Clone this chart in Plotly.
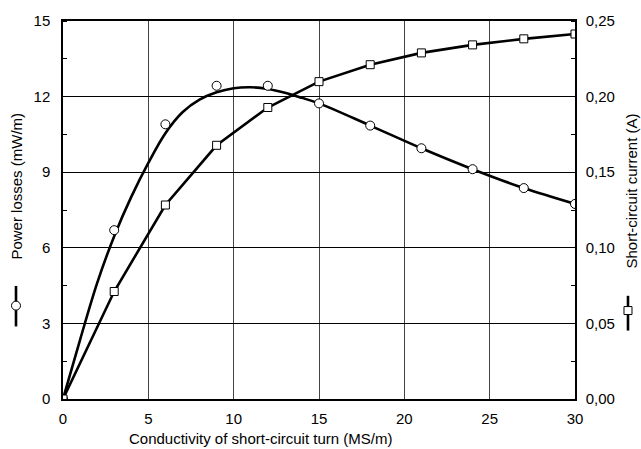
import plotly.graph_objects as go

# conductivity (MS/m)
conductivity = [0, 3, 6, 9, 12, 15, 18, 21, 24, 27, 30]
# power losses (mW/m) - measured points (circles)
power_losses = [0, 6.7, 10.9, 12.43, 12.43, 11.73, 10.85, 9.95, 9.12, 8.37, 7.74]
# short-circuit current (A) - squares
sc_current = [0, 0.0711, 0.1283, 0.1678, 0.1928, 0.2099, 0.2211, 0.2289, 0.2342, 0.2382, 0.2414]
# smooth fitted curve for power losses
fit_x = [0, 1, 2, 3, 4, 5, 6, 7, 8, 9, 10, 11, 12, 13, 14, 15, 18, 21, 24, 27, 30]
fit_y = [0, 2.35, 4.6, 6.46, 8.02, 9.37, 10.55, 11.38, 11.88, 12.17, 12.33, 12.37, 12.3, 12.15, 11.95,
         11.73, 10.85, 9.95, 9.12, 8.37, 7.74]

x_ticks = [0, 5, 10, 15, 20, 25, 30]
y_ticks = [0, 3, 6, 9, 12, 15]
y2_ticks = [0, 0.05, 0.10, 0.15, 0.20, 0.25]

FONT = "Liberation Sans, Arial, sans-serif"
FS = 15

fig = go.Figure()
fig.add_trace(go.Scatter(x=fit_x, y=fit_y, mode="lines", line=dict(color="black", width=2.6, shape="spline", smoothing=1.0),
                         showlegend=False, hoverinfo="skip"))
fig.add_trace(go.Scatter(x=conductivity, y=power_losses, mode="markers",
                         marker=dict(symbol="circle", size=9, color="white", line=dict(color="black", width=1)),
                         showlegend=False))
fig.add_trace(go.Scatter(x=conductivity, y=sc_current, mode="lines+markers", yaxis="y2",
                         line=dict(color="black", width=2.6),
                         marker=dict(symbol="square", size=8, color="white", line=dict(color="black", width=1)),
                         showlegend=False))

fig.update_layout(
    width=641, height=449,
    margin=dict(l=63, r=66, t=18, b=50),
    paper_bgcolor="white", plot_bgcolor="white",
    separators=",.",
    font=dict(family=FONT, size=FS, color="black"),
    xaxis=dict(range=[0, 30], tickvals=x_ticks, showgrid=True, gridcolor="#444", gridwidth=1,
               showline=True, linecolor="black", linewidth=1.5, mirror=True, zeroline=False,
               ticks="", ticklabelstandoff=5, tickfont=dict(size=FS)),
    yaxis=dict(range=[0, 15], tickvals=y_ticks, showgrid=True, gridcolor="black", gridwidth=1,
               showline=True, linecolor="black", linewidth=1.5, zeroline=False, ticks="",
               ticklabelstandoff=8,
               minor=dict(ticks="inside", ticklen=4, dtick=1.5, tickcolor="black", showgrid=False),
               tickfont=dict(size=FS)),
    yaxis2=dict(range=[0, 0.25], tickvals=y2_ticks, tickformat=".2f", overlaying="y", side="right",
                showgrid=False, showline=True, linecolor="black", linewidth=1.5, zeroline=False, ticks="",
                ticklabelstandoff=6,
                minor=dict(ticks="inside", ticklen=4, dtick=0.025, tickcolor="black"),
                tickfont=dict(size=FS)),
    annotations=[
        dict(text="Conductivity of short-circuit turn (MS/m)", xref="paper", yref="paper", x=0.385, y=-0.105,
             xanchor="center", yanchor="middle", showarrow=False, font=dict(size=FS)),
        dict(text="Power losses (mW/m)", xref="paper", yref="paper", x=-0.0898, y=0.562, textangle=-90,
             xanchor="center", yanchor="middle", showarrow=False, font=dict(size=FS)),
        dict(text="Short-circuit current (A)", xref="paper", yref="paper", x=1.111, y=0.551, textangle=-90,
             xanchor="center", yanchor="middle", showarrow=False, font=dict(size=FS)),
    ],
    shapes=[
        dict(type="line", xref="paper", yref="paper", x0=-0.0918, x1=-0.0918, y0=0.192, y1=0.299,
             line=dict(color="black", width=2.6)),
        dict(type="circle", xref="paper", yref="paper", xsizemode="pixel", ysizemode="pixel",
             xanchor=-0.0918, yanchor=0.247, x0=-4.5, x1=4.5, y0=-4.5, y1=4.5,
             fillcolor="white", line=dict(color="black", width=1)),
        dict(type="line", xref="paper", yref="paper", x0=1.1035, x1=1.1035, y0=0.181, y1=0.273,
             line=dict(color="black", width=2.6)),
        dict(type="rect", xref="paper", yref="paper", xsizemode="pixel", ysizemode="pixel",
             xanchor=1.1035, yanchor=0.234, x0=-4, x1=4, y0=-4, y1=4,
             fillcolor="white", line=dict(color="black", width=1)),
    ],
)

fig.write_html("out.html", config={"displayModeBar": False},
               post_script="document.body.style.margin='0';document.body.style.overflow='hidden';")
